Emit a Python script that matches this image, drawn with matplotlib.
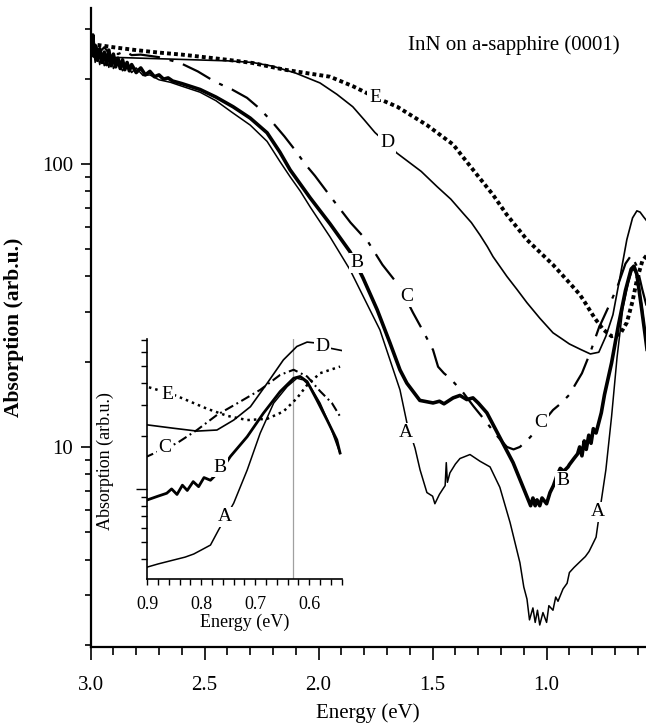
import matplotlib
matplotlib.use('Agg')
import matplotlib.pyplot as plt
from matplotlib.ticker import LogLocator, MultipleLocator, NullFormatter, FixedLocator, FixedFormatter

plt.rcParams['font.family'] = 'serif'
plt.rcParams['font.serif'] = ['Liberation Serif', 'DejaVu Serif']

# ---------------- data (energy in eV, absorption in arb.u.) ----------------
a_energy = [3.00, 2.99, 2.98, 2.97, 2.96, 2.95, 2.94, 2.93, 2.92, 2.91, 2.90, 2.88, 2.86, 2.84, 2.82,
            2.80, 2.77, 2.74, 2.70, 2.65, 2.60, 2.52, 2.45, 2.38, 2.30, 2.226, 2.17, 2.125, 2.08,
            2.037, 1.95, 1.862, 1.775, 1.731, 1.687, 1.643, 1.613, 1.577, 1.555, 1.525, 1.50, 1.49,
            1.47, 1.455, 1.445, 1.44, 1.435, 1.424, 1.40, 1.38, 1.336, 1.292, 1.248, 1.205, 1.16,
            1.117, 1.10, 1.086, 1.075, 1.06, 1.05, 1.04, 1.03, 1.016, 1.00, 0.99, 0.972, 0.96, 0.95,
            0.928, 0.91, 0.90, 0.88, 0.851, 0.83, 0.814, 0.80, 0.783, 0.768, 0.74, 0.715, 0.691,
            0.666, 0.641, 0.623, 0.611, 0.598, 0.58, 0.561, 0.543]
a_absorb = [240, 262, 228, 246, 224, 240, 222, 236, 219, 242, 217, 230, 213, 224, 210,
            218, 205, 206, 198, 194, 188, 179, 167, 152, 137, 120, 102, 90, 80,
            70.4, 55.2, 42.2, 30.5, 25.9, 20.3, 15.9, 12.2, 9.9, 8.3, 6.9, 6.7, 6.3,
            6.8, 7.1, 7.3, 8.8, 7.5, 8.1, 8.7, 9.1, 9.4, 8.9, 8.5, 7.2, 5.4,
            3.9, 3.2, 2.9, 2.45, 2.7, 2.4, 2.65, 2.35, 2.6, 2.4, 2.75, 2.65, 2.95, 2.85,
            3.15, 3.3, 3.6, 3.75, 3.95, 4.1, 4.27, 4.5, 4.8, 5.85, 8.3, 12.8, 20.7,
            30.7, 38.1, 42.5, 41.6, 38.1, 30.7, 22.6, 15.9]

b_energy = [3.00, 2.99, 2.985, 2.98, 2.97, 2.96, 2.95, 2.94, 2.93, 2.92, 2.91, 2.90, 2.89, 2.88,
            2.87, 2.86, 2.85, 2.84, 2.83, 2.82, 2.80, 2.78, 2.76, 2.74, 2.72, 2.70, 2.68, 2.66,
            2.64, 2.60, 2.52, 2.45, 2.375, 2.30, 2.226, 2.17, 2.125, 2.037, 1.95, 1.862, 1.805,
            1.743, 1.687, 1.643, 1.613, 1.556, 1.498, 1.47, 1.45, 1.41, 1.38, 1.35, 1.323, 1.30,
            1.262, 1.205, 1.147, 1.086, 1.07, 1.06, 1.05, 1.042, 1.03, 1.02, 1.00, 0.985, 0.97,
            0.955, 0.94, 0.925, 0.906, 0.90, 0.88, 0.864, 0.855, 0.845, 0.835, 0.826, 0.815,
            0.805, 0.795, 0.783, 0.76, 0.746, 0.715, 0.685, 0.654, 0.629, 0.617, 0.604, 0.586,
            0.567, 0.549, 0.543]
b_absorb = [250, 285, 240, 262, 232, 255, 228, 248, 224, 252, 222, 244, 220, 236,
            217, 233, 215, 228, 213, 224, 210, 218, 206, 212, 203, 206, 199, 201,
            196, 192, 183, 172, 159, 145, 128.7, 110, 95.2, 75.8, 61.4, 48.9, 39.5,
            30.5, 23.3, 18.7, 16.8, 14.6, 14.3, 14.5, 14.2, 14.9, 15.2, 14.7, 14.9, 14.3,
            13.2, 10.8, 8.8, 6.67, 6.2, 6.6, 6.2, 6.5, 6.2, 6.6, 6.3, 6.9, 7.3,
            7.9, 8.4, 8.2, 8.5, 8.66, 9.1, 9.45, 10.0, 9.3, 10.5, 9.8, 11.0,
            10.3, 11.6, 11.2, 13.2, 15.3, 19.8, 26.9, 35.7, 42.5, 43.5, 40.7, 32.0,
            24.6, 19.0, 16.0]

c_energy = [3.00, 2.98, 2.96, 2.94, 2.92, 2.90, 2.88, 2.85, 2.82, 2.78, 2.70, 2.607, 2.53, 2.455,
            2.38, 2.314, 2.26, 2.205, 2.15, 2.104, 2.06, 2.016, 1.937, 1.86, 1.783, 1.72, 1.643,
            1.586, 1.54, 1.498, 1.476, 1.45, 1.424, 1.367, 1.32, 1.27, 1.22, 1.174, 1.145, 1.117,
            1.073, 1.02, 0.972, 0.935, 0.90, 0.867, 0.845, 0.808, 0.771, 0.728, 0.691, 0.654,
            0.629, 0.604, 0.58, 0.558, 0.543]
c_absorb = [250, 262, 248, 258, 246, 254, 244, 250, 242, 243, 238, 227, 212, 195,
            183, 171, 157, 141, 125, 112, 100, 90.7, 74.6, 62, 53, 44, 36.7,
            29.8, 25.5, 22.0, 19.2, 18.2, 17.5, 15.6, 13.9, 12.4, 11.0, 10.0, 9.8, 10.0,
            10.8, 12.1, 13.5, 14.3, 15.3, 17.0, 18.2, 21.6, 26.3, 31.3, 36.5, 44.4,
            47.5, 43.5, 35.9, 30.7, 25.8]

d_energy = [3.00, 2.95, 2.85, 2.70, 2.55, 2.40, 2.29, 2.20, 2.10, 1.994, 1.92, 1.85, 1.80, 1.753,
            1.70, 1.656, 1.55, 1.48, 1.42, 1.367, 1.33, 1.292, 1.26, 1.235, 1.174, 1.13, 1.086, 1.03,
            0.972, 0.93, 0.90, 0.851, 0.808, 0.771, 0.74, 0.709, 0.678, 0.648, 0.623, 0.604, 0.59,
            0.575, 0.561, 0.539]
d_absorb = [240, 238, 237, 235, 233, 231, 228, 221, 209, 193, 176, 159, 143, 129,
            118, 109, 94, 83, 75, 67, 62, 56, 51, 47, 40, 36, 32.3, 28.5,
            25.3, 24.0, 23.1, 22.1, 21.3, 21.6, 24.6, 29.3, 39.8, 54.0, 64.4, 68.2, 67.5,
            65.0, 62.9, 61.0]

e_energy = [3.00, 2.90, 2.80, 2.70, 2.60, 2.52, 2.40, 2.29, 2.15, 1.95, 1.85, 1.753, 1.655, 1.525,
            1.41, 1.36, 1.305, 1.235, 1.174, 1.086, 0.972, 0.90, 0.854, 0.833, 0.789, 0.752, 0.715,
            0.678, 0.648, 0.623, 0.604, 0.58, 0.543]
e_absorb = [265, 258, 252, 247, 243, 239, 233, 227, 215, 203, 188, 172, 159, 137,
            117, 104, 91.4, 77.7, 66, 53.9, 44, 38.0, 34.5, 32.5, 28.5, 26.0, 24.6,
            25.0, 27.5, 32.7, 38.9, 45.4, 49.5]

# curve label positions (energy, absorption)
main_labels = [("E", 1.753, 172), ("D", 1.700, 118.6), ("B", 1.832, 44.7), ("C", 1.612, 33.9),
               ("A", 1.617, 11.2), ("C", 1.025, 12.2), ("B", 0.928, 7.58), ("A", 0.776, 5.9)]
inset_labels = [("E", 0.862, 34.2), ("C", 0.867, 17.1), ("B", 0.765, 13.3), ("A", 0.756, 6.93),
                ("D", 0.576, 64.1)]

main_xticks = [3.0, 2.5, 2.0, 1.5, 1.0]
main_yticks = [10, 100]
inset_xticks = [0.9, 0.8, 0.7, 0.6]
peak_energy = 0.63

curves = {"A": (a_energy, a_absorb), "B": (b_energy, b_absorb), "C": (c_energy, c_absorb),
          "D": (d_energy, d_absorb), "E": (e_energy, e_absorb)}

main_style = {
    "A": dict(lw=1.1, ls='-'),
    "B": dict(lw=2.6, ls='-'),
    "C": dict(lw=1.6, ls=(0, (14, 4.5, 1.8, 4.5))),
    "D": dict(lw=1.2, ls='-'),
    "E": dict(lw=2.8, ls=(0, (1.0, 0.8))),
}
inset_style = {
    "A": dict(lw=1.1, ls='-'),
    "B": dict(lw=2.0, ls='-'),
    "C": dict(lw=1.5, ls=(0, (4.5, 1.8, 0.9, 1.8))),
    "D": dict(lw=1.2, ls='-'),
    "E": dict(lw=1.8, ls=(0, (1.0, 1.6))),
}

W, H = 646, 728
fig = plt.figure(figsize=(W / 100, H / 100), dpi=100)

# ---------------- main axes ----------------
x0, x1, ytop, ybot = 90.6, 646, 8, 647
ax = fig.add_axes([x0 / W, 1 - ybot / H, (x1 - x0) / W, (ybot - ytop) / H])
for k in ["E", "D", "C", "A", "B"]:
    e, v = curves[k]
    ax.plot(e, v, color='k', solid_joinstyle='round', **main_style[k])
ax.set_yscale('log')
ax.set_xlim(3.0, 0.564)
ax.set_ylim(1.965, 355)
for s in ['top', 'right']:
    ax.spines[s].set_visible(False)
for s in ['left', 'bottom']:
    ax.spines[s].set_linewidth(1.6)

ax.xaxis.set_major_locator(FixedLocator(main_xticks))
ax.xaxis.set_major_formatter(FixedFormatter([f"{t:.1f}" for t in main_xticks]))
ax.xaxis.set_minor_locator(MultipleLocator(0.1))
ax.yaxis.set_major_locator(FixedLocator(main_yticks))
ax.yaxis.set_major_formatter(FixedFormatter([str(t) for t in main_yticks]))
ax.yaxis.set_minor_locator(LogLocator(base=10, subs=range(2, 10)))
ax.yaxis.set_minor_formatter(NullFormatter())
ax.tick_params(axis='x', which='major', direction='out', length=9, width=1.2, pad=12, labelsize=15)
ax.tick_params(axis='x', which='minor', direction='out', length=5.4, width=1.2)
ax.tick_params(axis='y', which='major', direction='out', length=7.5, width=1.2, pad=5, labelsize=15)
ax.tick_params(axis='y', which='minor', direction='out', length=4, width=1.2)

ax.set_xlabel("Energy (eV)", fontsize=15)
ax.xaxis.set_label_coords(0.5, -(703 - ybot) / (ybot - ytop))
ax.set_ylabel("Absorption (arb.u.)", fontsize=15.5, fontweight='bold')
ax.yaxis.set_label_coords((24 - x0) / (x1 - x0), 0.5)

ax.text((514 - x0) / (x1 - x0), (ybot - 45) / (ybot - ytop), "InN on a-sapphire (0001)",
        transform=ax.transAxes, ha='center', va='center', fontsize=15)

box = dict(boxstyle='square,pad=0.08', fc='white', ec='none')
for lab, e, v in main_labels:
    ax.text(e, v, lab, ha='center', va='center', fontsize=14, bbox=box, zorder=5)

# ---------------- inset axes ----------------
ix0, ix1, iytop, iybot = 147.3, 342, 339, 579
axi = fig.add_axes([ix0 / W, 1 - iybot / H, (ix1 - ix0) / W, (iybot - iytop) / H])
axi.axvline(peak_energy, color='#a0a0a0', lw=0.9, zorder=0)
for k in ["E", "D", "C", "A", "B"]:
    e, v = curves[k]
    axi.plot(e, v, color='k', solid_joinstyle='round', **inset_style[k])
axi.set_yscale('log')
axi.set_xlim(0.9, 0.5394)
axi.set_ylim(3.08, 71)
for s in ['top', 'right']:
    axi.spines[s].set_visible(False)
for s in ['left', 'bottom']:
    axi.spines[s].set_linewidth(1.2)
axi.xaxis.set_major_locator(FixedLocator(inset_xticks))
axi.xaxis.set_major_formatter(FixedFormatter([f"{t:.1f}" for t in inset_xticks]))
axi.xaxis.set_minor_locator(MultipleLocator(0.02))
axi.yaxis.set_major_locator(FixedLocator([10]))
axi.yaxis.set_major_formatter(NullFormatter())
axi.yaxis.set_minor_locator(LogLocator(base=10, subs=range(2, 10)))
axi.yaxis.set_minor_formatter(NullFormatter())
axi.tick_params(axis='x', which='both', direction='out', length=4, width=1.0, pad=8, labelsize=13)
axi.tick_params(axis='y', which='major', direction='out', length=8, width=1.0)
axi.tick_params(axis='y', which='minor', direction='out', length=4.5, width=1.0)
axi.set_xlabel("Energy (eV)", fontsize=13)
axi.xaxis.set_label_coords(0.5, -(614 - iybot) / (iybot - iytop))
axi.set_ylabel("Absorption (arb.u.)", fontsize=13)
axi.yaxis.set_label_coords((114 - ix0) / (ix1 - ix0), 0.49)
for lab, e, v in inset_labels:
    axi.text(e, v, lab, ha='center', va='center', fontsize=14, bbox=box, zorder=5)

fig.savefig("out.png", dpi=100)
